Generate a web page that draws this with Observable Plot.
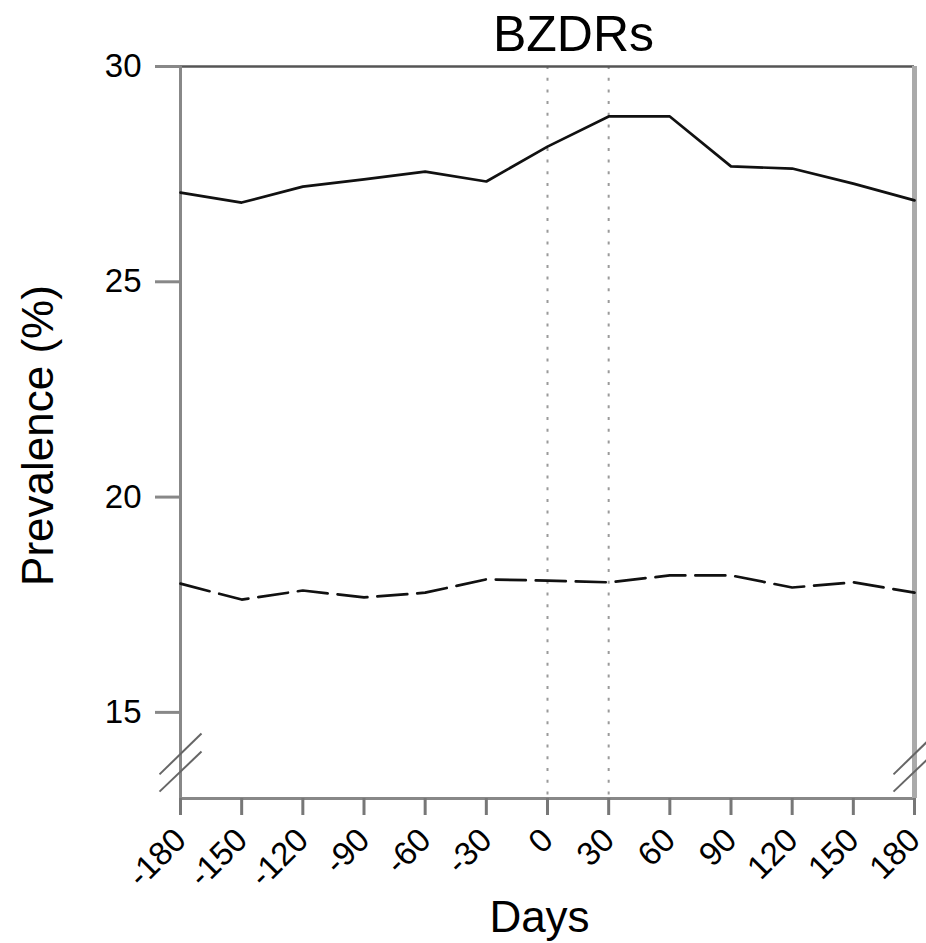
<!DOCTYPE html>
<html>
<head>
<meta charset="utf-8">
<script src="https://cdn.jsdelivr.net/npm/d3@7"></script>
<script src="https://cdn.jsdelivr.net/npm/@observablehq/plot@0.6"></script>
<style>
  html, body { margin: 0; padding: 0; background: #fff; }
  #chart { width: 926px; height: 943px; }
</style>
</head>
<body>
<div id="chart"></div>
<script>
// ---- data ----
const chartTitle = "BZDRs";
const xLabel = "Days";
const yLabel = "Prevalence (%)";
const days = [-180, -150, -120, -90, -60, -30, 0, 30, 60, 90, 120, 150, 180];
const seriesSolid  = [27.07, 26.84, 27.21, 27.38, 27.56, 27.33, 28.14, 28.84, 28.84, 27.68, 27.63, 27.28, 26.89];
const seriesDashed = [17.99, 17.62, 17.83, 17.67, 17.78, 18.09, 18.06, 18.02, 18.18, 18.18, 17.90, 18.02, 17.78];
const yTicks = [15, 20, 25, 30];
const refDays = [0, 30];
const yDomain = [13, 30];
const xDomain = [-180, 180];
// axis-break marks (data units)
const breakMarks = [
  {x1: -190.3, y1: 13.56, x2: -169.7, y2: 14.51},
  {x1: -190.3, y1: 13.16, x2: -169.7, y2: 14.09},
  {x1: 169.7,  y1: 13.56, x2: 190.3,  y2: 14.51},
  {x1: 169.7,  y1: 13.16, x2: 190.3,  y2: 14.09}
];

const solid = days.map((d, i) => ({day: d, value: seriesSolid[i]}));
const dashed = days.map((d, i) => ({day: d, value: seriesDashed[i]}));

const font = "'Liberation Sans', Arial, Helvetica, sans-serif";

const plot = Plot.plot({
  width: 926,
  height: 943,
  marginTop: 66,
  marginBottom: 145,
  marginLeft: 180,
  marginRight: 12,
  style: {fontFamily: font, background: "#fff", color: "#000", overflow: "visible"},
  x: {domain: xDomain, label: null},
  y: {domain: yDomain, label: null},
  marks: [
    // dotted reference lines
    Plot.ruleX(refDays, {stroke: "#9a9a9a", strokeWidth: 2, strokeDasharray: "3,8.7"}),
    // frame pieces
    Plot.ruleY([yDomain[1]], {stroke: "#555", strokeWidth: 2.5}),
    Plot.ruleY([yDomain[0]], {stroke: "#888", strokeWidth: 3}),
    Plot.ruleX([xDomain[0]], {stroke: "#888", strokeWidth: 3}),
    Plot.ruleX([xDomain[1]], {stroke: "#aaa", strokeWidth: 5}),
    // y axis
    Plot.axisY({ticks: yTicks, tickSize: 25, tickPadding: 14, stroke: "#888", strokeWidth: 3,
                fontSize: 33, label: null, tickFormat: d => String(d)}),
    // x axis ticks
    Plot.axisX({ticks: days, tickSize: 17, stroke: "#777", strokeWidth: 3, text: null, label: null}),
    Plot.text(days, {x: d => d, frameAnchor: "bottom", lineAnchor: "middle", textAnchor: "end",
                     rotate: -45, dx: 0, dy: 36, fontSize: 33, text: d => String(d)}),
    // break marks
    Plot.link(breakMarks, {x1: "x1", y1: "y1", x2: "x2", y2: "y2", stroke: "#666", strokeWidth: 2}),
    // data lines
    Plot.line(dashed, {x: "day", y: "value", stroke: "#111", strokeWidth: 2.7, strokeDasharray: "30,10"}),
    Plot.line(solid, {x: "day", y: "value", stroke: "#111", strokeWidth: 2.7}),
    // titles
    Plot.text([chartTitle], {frameAnchor: "top", lineAnchor: "middle", textAnchor: "middle", dx: 26, dy: -32, fontSize: 50, text: d => d}),
    Plot.text([xLabel], {frameAnchor: "bottom", lineAnchor: "middle", textAnchor: "middle", dx: -8, dy: 119, fontSize: 44, text: d => d}),
    Plot.text([yLabel], {frameAnchor: "left", lineAnchor: "middle", textAnchor: "middle", rotate: -90, dx: -142, dy: 3, fontSize: 44, text: d => d})
  ]
});
document.getElementById("chart").appendChild(plot);
</script>
</body>
</html>
